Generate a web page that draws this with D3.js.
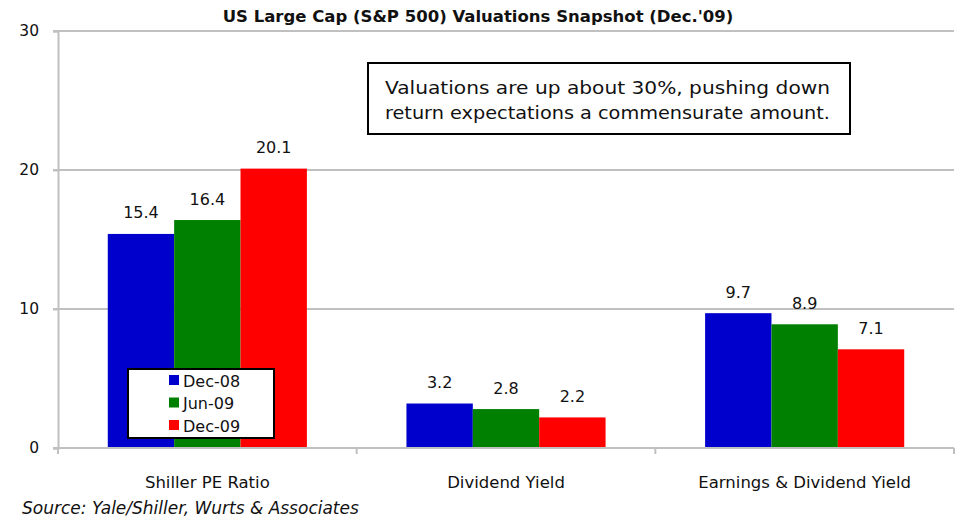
<!DOCTYPE html>
<html><head><meta charset="utf-8">
<script src="https://cdn.jsdelivr.net/npm/d3@7"></script>
<style>body{margin:0;background:#fff;} text{font-family:"DejaVu Sans",sans-serif;fill:#111;}</style>
</head><body>
<svg id="c" width="956" height="519"></svg>
<script>
const categories = ["Shiller PE Ratio", "Dividend Yield", "Earnings & Dividend Yield"];
const seriesNames = ["Dec-08", "Jun-09", "Dec-09"];
const dec08 = [15.4, 3.2, 9.7];
const jun09 = [16.4, 2.8, 8.9];
const dec09 = [20.1, 2.2, 7.1];
const yTicks = [0, 10, 20, 30];
const colors = ["#0000CC", "#008000", "#FF0000"];
const title = "US Large Cap (S&P 500) Valuations Snapshot (Dec.'09)";
const note = ["Valuations are up about 30%, pushing down", "return expectations a commensurate amount."];
const source = "Source: Yale/Shiller, Wurts & Associates";

const series = [dec08, jun09, dec09];
const svg = d3.select("#c");
const L = 58, R = 954, T = 31, B = 448;
const x0 = d3.scaleBand().domain(categories).range([L, R]).paddingInner(0).paddingOuter(0);
const y = d3.scaleLinear().domain([0, 30]).range([B, T]);
const x1 = d3.scaleBand().domain(seriesNames).range([0, x0.bandwidth()]).paddingOuter(0.75).paddingInner(0);

// gridlines
svg.append("g").selectAll("line").data(yTicks.filter(d => d > 0)).join("line")
  .attr("x1", L - 5).attr("x2", R).attr("y1", d => y(d)).attr("y2", d => y(d))
  .attr("stroke", "#c0c0c0").attr("stroke-width", 2);

// y axis
const ya = svg.append("g").attr("transform", `translate(${L},0)`)
  .call(d3.axisLeft(y).tickValues(yTicks).tickSize(5).tickPadding(14).tickFormat(d3.format("d")));
ya.select(".domain").attr("stroke", "#c0c0c0").attr("stroke-width", 2);
ya.selectAll(".tick line").attr("stroke", "#c0c0c0").attr("stroke-width", 2);
ya.selectAll("text").style("font-size", "15.5px").attr("fill", "#111");

// bars
categories.forEach((c, ci) => {
  const g = svg.append("g").attr("transform", `translate(${x0(c)},0)`);
  seriesNames.forEach((s, si) => {
    const v = series[si][ci];
    g.append("rect").attr("x", x1(s)).attr("width", x1.bandwidth())
      .attr("y", y(v)).attr("height", y(0) - y(v)).attr("fill", colors[si]);
    g.append("text").attr("x", x1(s) + x1.bandwidth() / 2).attr("y", y(v) - 15.5)
      .attr("text-anchor", "middle").style("font-size", "16px").text(d3.format(".1f")(v));
  });
});

// x axis
const xa = svg.append("g").attr("transform", `translate(0,${B})`)
  .call(d3.axisBottom(x0).tickSize(0).tickPadding(28));
xa.select(".domain").remove();
svg.append("line").attr("x1", L - 5).attr("x2", R).attr("y1", B).attr("y2", B).attr("stroke", "#c0c0c0").attr("stroke-width", 2);
const bounds = [L, ...categories.map(c => x0(c) + x0.bandwidth())];
svg.append("g").selectAll("line").data(bounds).join("line")
  .attr("x1", d => d).attr("x2", d => d).attr("y1", B).attr("y2", B + 6)
  .attr("stroke", "#c0c0c0").attr("stroke-width", 2);
xa.selectAll("text").style("font-size", "16.5px").attr("fill", "#111");

// title
svg.append("text").attr("x", 478).attr("y", 22).attr("text-anchor", "middle")
  .style("font-size", "16.5px").style("font-weight", "600").text(title);

// note box
svg.append("rect").attr("x", 368).attr("y", 63).attr("width", 482).attr("height", 71)
  .attr("fill", "#fff").attr("stroke", "#000").attr("stroke-width", 2);
note.forEach((t, i) => {
  svg.append("text").attr("x", 385).attr("y", 94 + i * 25).style("font-size", "18.5px")
    .attr("textLength", 445).attr("lengthAdjust", "spacingAndGlyphs").text(t);
});

// legend
svg.append("rect").attr("x", 128).attr("y", 369).attr("width", 146).attr("height", 69)
  .attr("fill", "#fff").attr("stroke", "#000").attr("stroke-width", 2);
seriesNames.forEach((s, i) => {
  svg.append("rect").attr("x", 169).attr("y", 375 + i * 22.5).attr("width", 10).attr("height", 10).attr("fill", colors[i]);
  svg.append("text").attr("x", 183).attr("y", 386.5 + i * 22.5).style("font-size", "16px").text(s);
});

// source
svg.append("text").attr("x", 22).attr("y", 514).style("font-size", "17px").style("font-style", "italic").text(source);
</script>
</body></html>
